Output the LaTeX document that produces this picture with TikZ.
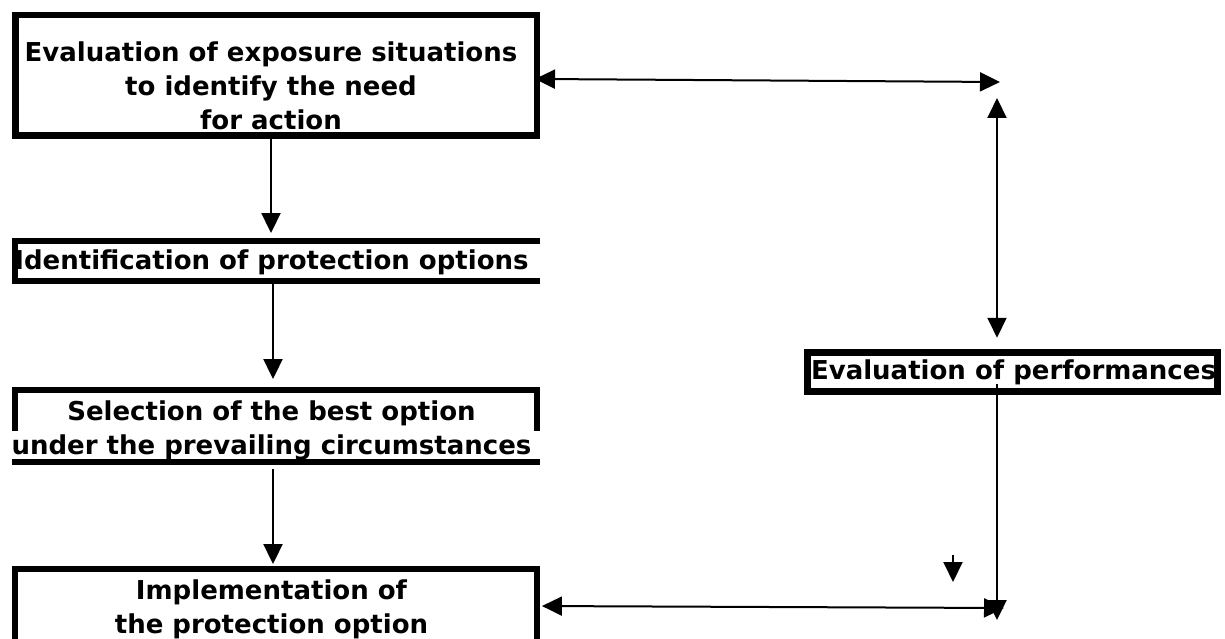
\documentclass[tikz,border=0pt]{standalone}
\usepackage{fontspec}
\setmainfont{DejaVu Sans}
\usetikzlibrary{arrows.meta}
\begin{document}
\begin{tikzpicture}[x=1pt, y=-1pt, >={Triangle[length=20pt,width=19pt]},
  box/.style={draw, line width=6.5pt, inner sep=0pt},
  frame/.style={inner sep=0pt},
  border/.style={line width=6.5pt, line cap=rect},
  txt/.style={font=\fontsize{26}{34}\selectfont\bfseries, align=center, inner sep=0pt},
  conn/.style={line width=2pt}]
\useasboundingbox (0,0) rectangle (1225,639);
% boxes
\node[box, minimum width=521.5pt, minimum height=120.5pt](expo) at (276,75.5) {};
\node[frame, minimum width=521.5pt, minimum height=39.5pt](ident) at (276,261) {};
\node[frame, minimum width=521.5pt, minimum height=71.5pt](select) at (276,426) {};
\node[frame, minimum width=521.5pt, minimum height=77.5pt](impl) at (276,608) {};
\node[box, line width=7.5pt, minimum width=410pt, minimum height=39pt](perf) at (1012.5,372) {};
\draw[border](ident.north east)--(ident.north west)--(ident.south west)--(ident.south east);
\draw[border]([yshift=-38pt]select.north west)--(select.north west)--(select.north east)--([yshift=-38pt]select.north east);
\draw[border](select.south west)--(select.south east);
\draw[border](impl.south west)--(impl.north west)--(impl.north east)--(impl.south east);
% texts
\node[txt](expotext) at (271,86) {Evaluation of exposure situations\\to identify the need\\for action};
\node[txt](identtext) at (271.5,262) {Identification of protection options};
\node[txt](selecttext) at (271.5,430) {Selection of the best option\\under the prevailing circumstances};
\node[txt](impltext) at (271.5,609) {Implementation of\\the protection option};
\node[txt](perftext) at (1013.5,372) {Evaluation of performances};
% arrows
\coordinate (topend) at (1000,82);
\coordinate (vtop) at (997,98);
\coordinate (vbot) at (997,620);
\coordinate (botend) at (1004,608);
\coordinate (stray) at (953,555);
\coordinate (straytip) at (953,582);
\draw[conn,->,shorten >=8pt]([xshift=-5pt]expo.south)--([xshift=-5pt]ident.north);
\draw[conn,->,shorten <=3pt,shorten >=11pt]([xshift=-3pt]ident.south)--([xshift=-3pt]select.north);
\draw[conn,->,shorten <=7pt,shorten >=5pt]([xshift=-3pt]select.south)--([xshift=-3pt]impl.north);
\draw[conn,<->,shorten <=-5pt]([yshift=-3.5pt]expo.east)--(topend);
\draw[conn,<->,shorten >=11pt](vtop)--(vtop |- perf.north);
\draw[conn,->,shorten <=-11pt](vtop |- perf.south)--(vbot);
\draw[conn,<->,shorten <=5pt]([yshift=2pt]impl.east)--(botend);
\draw[conn,->](stray)--(straytip);
\end{tikzpicture}
\end{document}
